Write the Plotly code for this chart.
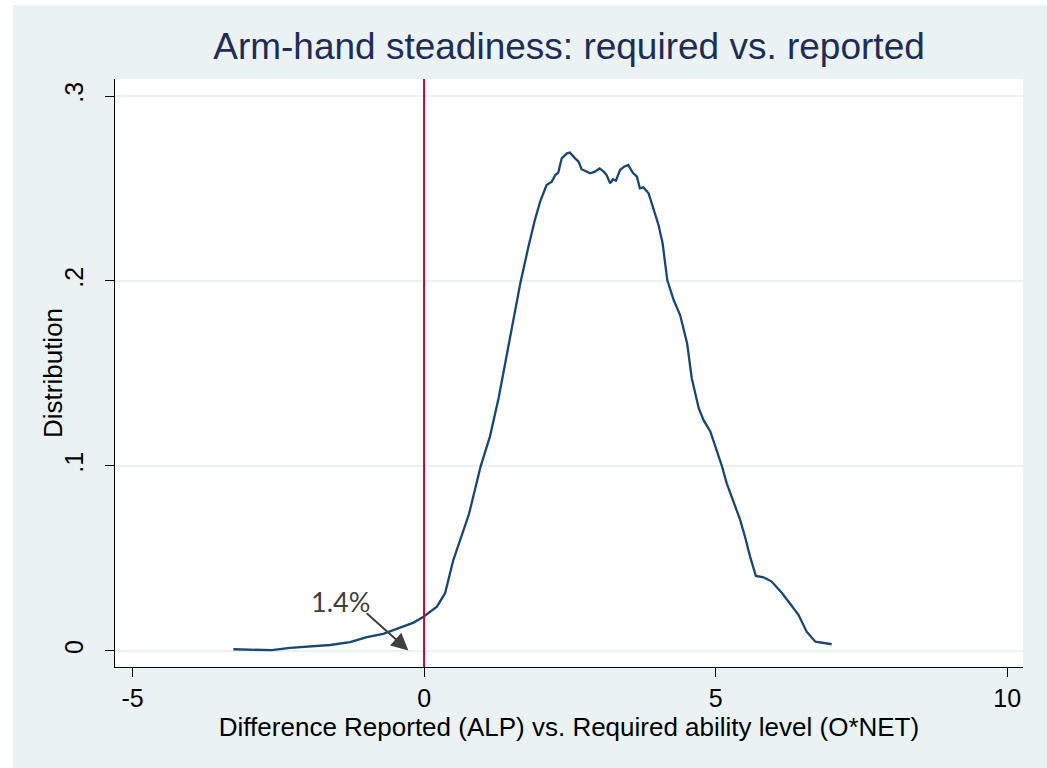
import plotly.graph_objects as go

# Density curve
diff_x = [-3.27, -2.93, -2.61, -2.30, -1.96, -1.61, -1.27, -0.98, -0.70, -0.44, -0.18, -0.01,
          0.22, 0.36, 0.45, 0.50, 0.62, 0.77, 0.97, 1.13, 1.28, 1.44, 1.50, 1.65, 1.79, 1.90,
          1.99, 2.10, 2.19, 2.25, 2.30, 2.36, 2.45, 2.50, 2.59, 2.65, 2.70, 2.79, 2.85, 2.93,
          3.01, 3.08, 3.13, 3.19, 3.24, 3.29, 3.36, 3.43, 3.50, 3.58, 3.65, 3.70, 3.76, 3.85,
          3.93, 4.02, 4.09, 4.17, 4.28, 4.39, 4.51, 4.59, 4.71, 4.79, 4.91, 5.02, 5.11, 5.19,
          5.33, 5.42, 5.51, 5.59, 5.69, 5.82, 5.96, 6.14, 6.28, 6.42, 6.56, 6.71, 6.99]
density = [0.0009, 0.0005, 0.0004, 0.0016, 0.0023, 0.0032, 0.0047, 0.0074, 0.0092, 0.0123, 0.0153, 0.0185,
           0.0239, 0.0312, 0.0420, 0.0490, 0.0600, 0.0740, 0.0998, 0.1160, 0.1370, 0.1630, 0.1735, 0.1988, 0.2186, 0.2330,
           0.2429, 0.2519, 0.2537, 0.2573, 0.2585, 0.2663, 0.2690, 0.2694, 0.2663, 0.2645, 0.2604, 0.2591, 0.2582, 0.2591,
           0.2609, 0.2591, 0.2573, 0.2528, 0.2550, 0.2542, 0.2600, 0.2618, 0.2627, 0.2585, 0.2564, 0.2501, 0.2506, 0.2474,
           0.2393, 0.2303, 0.2204, 0.2005, 0.1897, 0.1816, 0.1663, 0.1474, 0.1312, 0.1249, 0.1185, 0.1086, 0.0996, 0.0906,
           0.0780, 0.0708, 0.0609, 0.0510, 0.0405, 0.0398, 0.0375, 0.0312, 0.0254, 0.0195, 0.0104, 0.0050, 0.0036]

x_ticks = [-5, 0, 5, 10]
x_tick_labels = ["-5", "0", "5", "10"]
y_ticks = [0, 0.1, 0.2, 0.3]
y_tick_labels = ["0", ".1", ".2", ".3"]
ref_line_x = [0]
share_label = ["1.4%"]

BG = "#EAF2F3"
fig = go.Figure()
fig.add_trace(go.Scatter(x=diff_x, y=density, mode="lines",
                         line=dict(color="#1A476F", width=2.3), showlegend=False,
                         hoverinfo="skip"))

for xv in ref_line_x:
    fig.add_shape(type="line", xref="x", yref="paper", x0=xv, x1=xv, y0=0, y1=1,
                  line=dict(color="#C10534", width=2), layer="above")

# arrow
fig.add_annotation(x=-0.27, y=0.0002, ax=-1.01, ay=0.0211, xref="x", yref="y",
                   axref="x", ayref="y", text="", showarrow=True, arrowhead=2,
                   arrowsize=1.7, arrowwidth=2, arrowcolor="#404040", standoff=0)
fig.add_annotation(x=-1.44, y=0.0268, xref="x", yref="y", text=share_label[0],
                   showarrow=False, font=dict(family="Lato", size=27, color="#404040"))

# y-axis title placed in pixel-matched position
fig.add_annotation(x=(53 - 115) / 908, y=0.5, xref="paper", yref="paper",
                   text="Distribution", textangle=-90, showarrow=False,
                   xanchor="center", yanchor="middle",
                   font=dict(family="Liberation Sans", size=26, color="black"))

# white frame strips at left and top edges
fig.add_shape(type="rect", xref="paper", yref="paper", x0=-0.2, x1=(13-115)/908,
              y0=-0.3, y1=1.3, fillcolor="white", line=dict(width=0), layer="below")
fig.add_shape(type="rect", xref="paper", yref="paper", x0=-0.2, x1=1.2,
              y0=(667-5)/588, y1=1.3, fillcolor="white", line=dict(width=0), layer="below")

axis_common = dict(showline=True, linecolor="black", linewidth=1, ticks="outside",
                   ticklen=9, tickcolor="black", tickwidth=1, zeroline=False,
                   tickfont=dict(family="Liberation Sans", size=25, color="black"),
                   mirror=False)

fig.update_layout(
    width=1047, height=768,
    margin=dict(l=115, r=24, t=79, b=101, autoexpand=False),
    paper_bgcolor=BG, plot_bgcolor="white",
    title=dict(text="Arm-hand steadiness: required vs. reported", x=0.5, xref="paper",
               xanchor="center", y=1 - 46/768, yanchor="middle",
               font=dict(family="Liberation Sans", size=37, color="#1F2D55")),
    xaxis=dict(range=[-5.3, 10.27], tickvals=x_ticks, ticktext=x_tick_labels,
               title=dict(text="Difference Reported (ALP) vs. Required ability level (O*NET)",
                          font=dict(family="Liberation Sans", size=26, color="black"), standoff=5),
               showgrid=False, **axis_common),
    yaxis=dict(range=[-0.0087, 0.3092], tickvals=y_ticks, ticktext=y_tick_labels, tickangle=-90,
               ticklabelstandoff=12, showgrid=True, gridcolor=BG, gridwidth=2,
               **axis_common),
)

fig.write_html("out.html")
